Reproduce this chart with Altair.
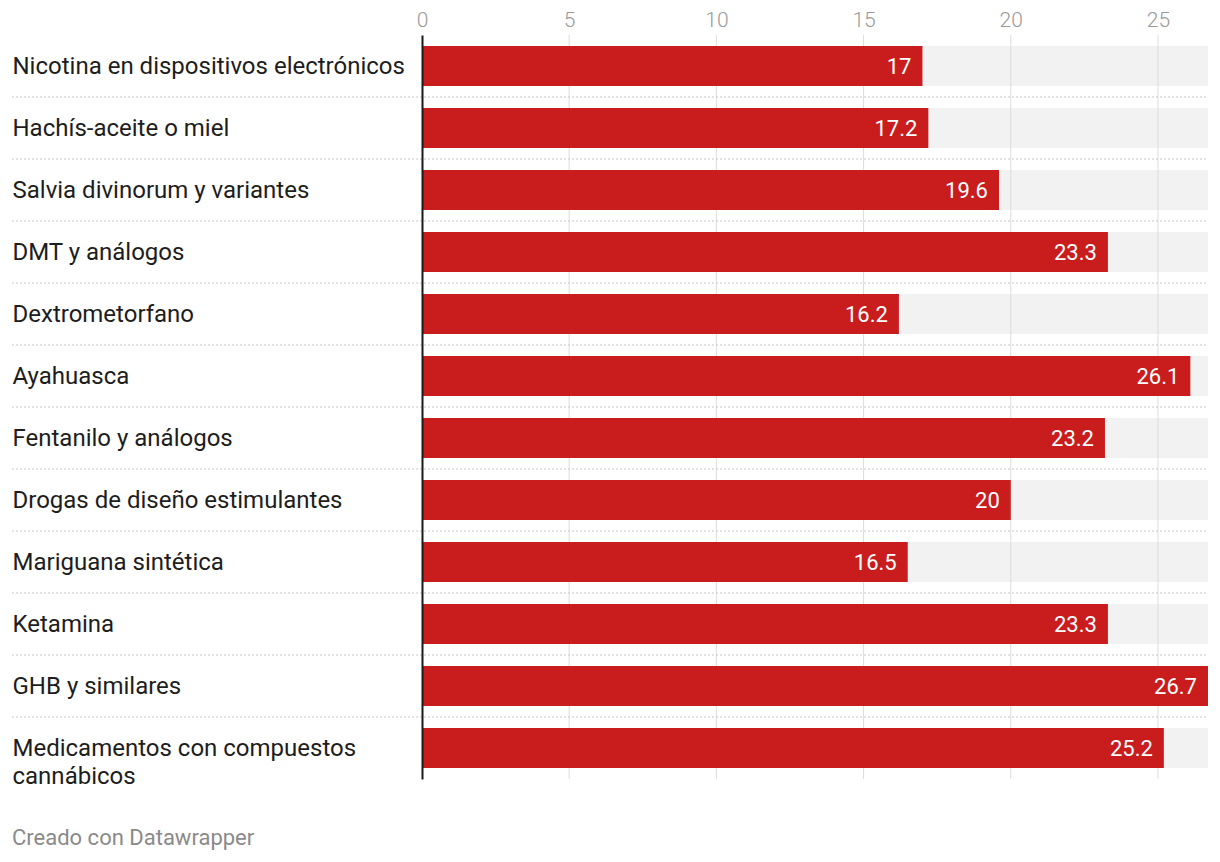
import altair as alt
import pandas as pd

categories = [
    "Nicotina en dispositivos electrónicos",
    "Hachís-aceite o miel",
    "Salvia divinorum y variantes",
    "DMT y análogos",
    "Dextrometorfano",
    "Ayahuasca",
    "Fentanilo y análogos",
    "Drogas de diseño estimulantes",
    "Mariguana sintética",
    "Ketamina",
    "GHB y similares",
    "Medicamentos con compuestos cannábicos",
]
values = [17, 17.2, 19.6, 23.3, 16.2, 26.1, 23.2, 20, 16.5, 23.3, 26.7, 25.2]
value_labels = ["17", "17.2", "19.6", "23.3", "16.2", "26.1", "23.2", "20", "16.5", "23.3", "26.7", "25.2"]
tick_values = [0, 5, 10, 15, 20, 25]
footer = "Creado con Datawrapper"

W = 786
H = 744
FONT = "Roboto"

df = pd.DataFrame({"cat": categories, "val": values, "lab": value_labels})
df["bg"] = max(values)
sep_df = df.iloc[1:]
grid_df = pd.DataFrame({"t": [t for t in tick_values if t > 0]})

xscale = alt.Scale(domain=[0, max(values)], nice=False, zero=True)
yscale = alt.Scale(domain=categories, paddingInner=22 / 62, paddingOuter=11 / 62)

base = alt.Chart(df)

bg = base.mark_bar(color="#f2f2f2").encode(
    x=alt.X("bg:Q", scale=xscale,
            axis=alt.Axis(orient="top", values=tick_values, grid=False, ticks=False,
                          domain=False, tickSize=0, labelPadding=5, labelFontSize=21,
                          labelColor="#999999", labelFont=FONT, labelFontWeight=300,
                          labelFlush=False, title=None)),
    y=alt.Y("cat:N", scale=yscale, sort=categories,
            axis=alt.Axis(orient="left", ticks=False, tickSize=0, labelAlign="left",
                          labelPadding=410, labelFontSize=24, labelColor="#1d1d1d",
                          labelFont=FONT, labelLimit=0, labelLineHeight=28, labelOffset=1,
                          labelExpr="datum.label == 'Medicamentos con compuestos cannábicos' ? ['Medicamentos con compuestos', 'cannábicos'] : datum.label",
                          domain=True, domainColor="#1a1a1a", domainWidth=2, zindex=1,
                          title=None)),
)

grid = alt.Chart(grid_df).mark_rule(color="#dcdcdc", strokeWidth=1).encode(
    x=alt.X("t:Q", scale=xscale)
)

seps = alt.Chart(sep_df).mark_rule(color="#c8c8c8", strokeWidth=1, strokeDash=[2, 2], yOffset=-11).encode(
    y=alt.Y("cat:N", scale=yscale, sort=categories, bandPosition=0),
    x=alt.value(-410),
    x2=alt.value(W),
)

bars = base.mark_bar(color="#c91d1d").encode(
    x=alt.X("val:Q", scale=xscale),
    y=alt.Y("cat:N", scale=yscale, sort=categories),
)

text = base.mark_text(align="right", baseline="middle", dx=-11, dy=1, color="white",
                      fontSize=22, font=FONT).encode(
    x=alt.X("val:Q", scale=xscale),
    y=alt.Y("cat:N", scale=yscale, sort=categories),
    text="lab:N",
)

foot = alt.Chart(pd.DataFrame({"f": [footer]})).mark_text(
    align="left", baseline="middle", fontSize=22, color="#8a8a8a", font=FONT
).encode(x=alt.value(-410), y=alt.value(H + 59), text="f:N")

chart = alt.layer(bg, grid, seps, bars, text, foot).properties(
    width=W,
    height=H,
    autosize=alt.AutoSizeParams(type="none"),
    padding={"left": 414, "top": 27, "right": 4, "bottom": 80},
    background="white",
).configure_view(stroke=None)

chart.save("out.html", embed_options={"renderer": "svg", "actions": False})
